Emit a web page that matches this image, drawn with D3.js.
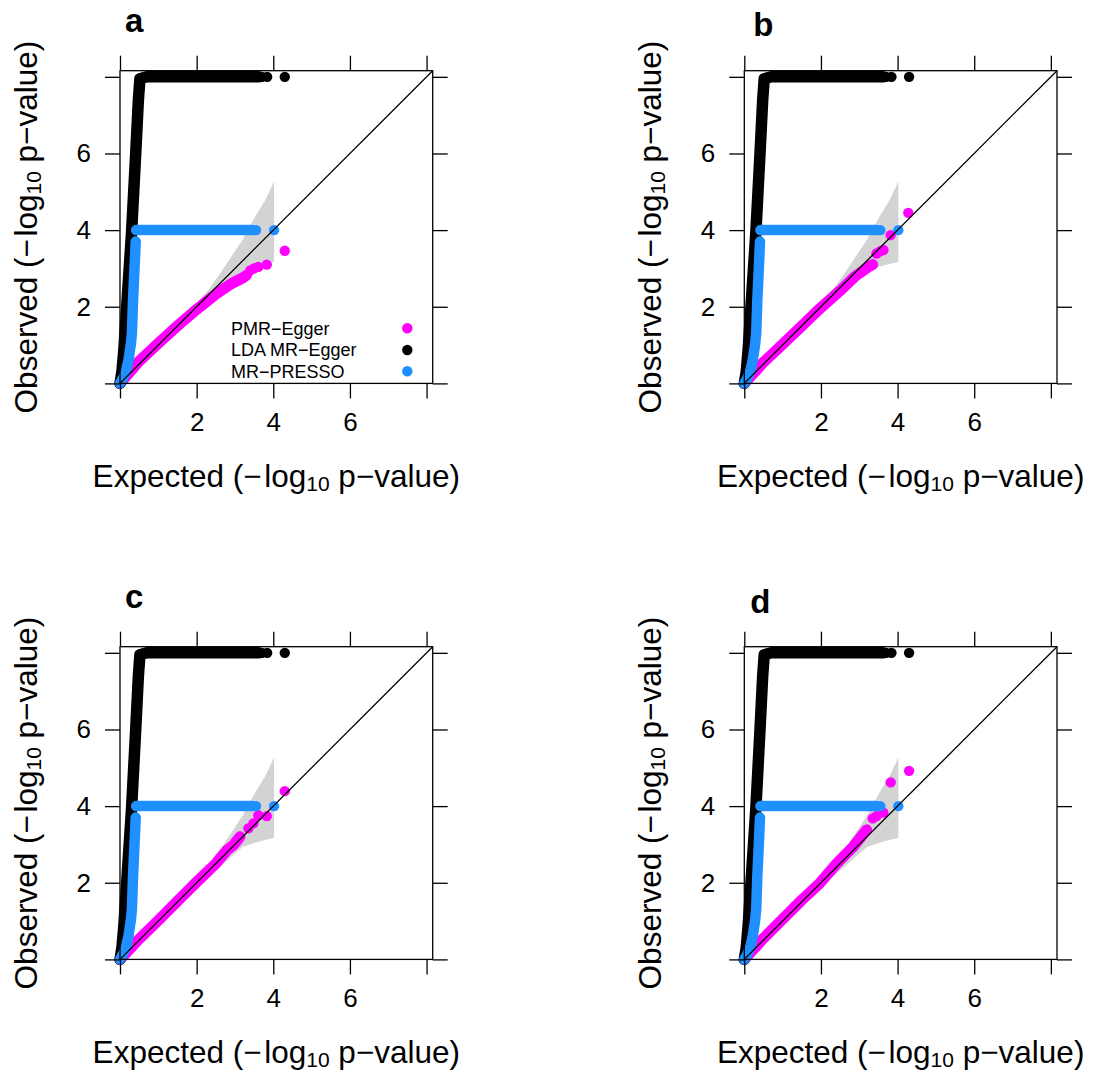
<!DOCTYPE html>
<html>
<head>
<meta charset="utf-8">
<script src="https://cdn.jsdelivr.net/npm/d3@7"></script>
<style>
  body { margin: 0; background: #fff; }
  svg { display: block; }
  text { font-family: "Liberation Sans", Arial, Helvetica, sans-serif; fill: #000; }
</style>
</head>
<body>
<svg width="1095" height="1072"></svg>
<script>
// ---- data ----
const panelLabels = ["a", "b", "c", "d"];
const seriesNames = ["PMR\u2212Egger", "LDA MR\u2212Egger", "MR\u2212PRESSO"];
const seriesColors = ["#ff00ff", "#000000", "#1e90ff"];
const axisTicks = [0, 2, 4, 6, 8];
const tickLabels = ["", "2", "4", "6", ""];

// 95% band around the null
const bandExp = [0, 1.0, 1.5, 2.0, 2.3, 2.6, 2.9, 3.2, 3.5, 3.8, 4.02];
const bandLo  = [0, 0.96, 1.44, 1.9, 2.16, 2.4, 2.68, 2.93, 3.04, 3.12, 3.17];
const bandHi  = [0, 1.04, 1.56, 2.1, 2.43, 2.85, 3.3, 3.75, 4.3, 4.8, 5.27];

// LDA MR-Egger, same in every panel (observed capped at 8)
const ldaDense = [[0, 0], [0.05, 0.3], [0.1, 0.87], [0.2, 2.4], [0.3, 3.91], [0.41, 6.0],
                  [0.48, 7.4], [0.52, 7.95], [0.7, 8.0], [3.62, 8.0]];
const ldaTail = [[3.7, 8.0], [3.84, 8.0], [4.3, 8.0]];

// MR-PRESSO, same in every panel
const pressoDense = [[0, 0], [0.06, 0.1], [0.15, 0.3], [0.22, 0.6], [0.28, 1.0], [0.31, 1.3],
                     [0.34, 2.17], [0.38, 3.04], [0.41, 3.7]];
const pressoFlat = [[0.42, 4.0], [3.45, 4.0]];
const pressoTail = [[3.55, 4.0], [4.02, 4.0]];

// PMR-Egger, one per panel
const pmrA = [[0, 0], [0.5, 0.58], [1.0, 1.05], [1.5, 1.5], [2.0, 1.93], [2.5, 2.33],
              [2.9, 2.6], [3.2, 2.75], [3.3, 2.82]];
const pmrTailA = [[3.4, 2.95], [3.5, 3.0], [3.61, 3.04], [3.83, 3.1], [4.3, 3.46]];
const pmrB = [[0, 0], [0.5, 0.55], [1.0, 1.02], [1.5, 1.5], [2.0, 1.98], [2.5, 2.42],
              [2.9, 2.8], [3.25, 3.05], [3.35, 3.1]];
const pmrTailB = [[3.45, 3.39], [3.55, 3.45], [3.63, 3.48], [3.82, 3.87], [4.28, 4.45]];
const pmrC = [[0, 0], [0.5, 0.53], [1.0, 1.02], [1.5, 1.52], [2.0, 2.02], [2.5, 2.5],
              [2.8, 2.86], [2.96, 2.98], [3.13, 3.2]];
const pmrTailC = [[3.35, 3.42], [3.48, 3.55], [3.61, 3.76], [3.83, 3.74], [4.3, 4.39]];
const pmrD = [[0, 0], [0.5, 0.55], [1.0, 1.05], [1.5, 1.55], [1.97, 1.99], [2.41, 2.5],
              [2.84, 2.94], [3.05, 3.2], [3.19, 3.38]];
const pmrTailD = [[3.35, 3.68], [3.45, 3.74], [3.63, 3.83], [3.82, 4.62], [4.3, 4.92]];

// ---- layout ----
const svg = d3.select("svg");
const size = 312.7;
const maxVal = 8.16;

const panels = [
    {label: "a", pmr: pmrA, tail: pmrTailA, x0: 120, y0: 70.7, lx: 5, ly: -38.7, legend: true},
    {label: "b", pmr: pmrB, tail: pmrTailB, x0: 744.3, y0: 70.7, lx: 9, ly: -34.5, legend: false},
    {label: "c", pmr: pmrC, tail: pmrTailC, x0: 120, y0: 646.7, lx: 5, ly: -38.5, legend: false},
    {label: "d", pmr: pmrD, tail: pmrTailD, x0: 744.3, y0: 646.7, lx: 6, ly: -33.5, legend: false}
];

const x = d3.scaleLinear().domain([0, maxVal]).range([0, size]);
const y = d3.scaleLinear().domain([0, maxVal]).range([size, 0]);

const line = d3.line().x(d => x(d[0])).y(d => y(d[1]));

function thick(g, data, color, w) {
    g.append("path")
        .attr("d", line(data))
        .attr("fill", "none")
        .attr("stroke", color)
        .attr("stroke-width", w)
        .attr("stroke-linecap", "round")
        .attr("stroke-linejoin", "round");
}

function dots(g, data, color) {
    g.selectAll(null).data(data).enter().append("circle")
        .attr("cx", d => x(d[0]))
        .attr("cy", d => y(d[1]))
        .attr("r", 5.2)
        .attr("fill", color);
}

function title(g, tr, word) {
    const t = g.append("text")
        .attr("transform", tr)
        .attr("text-anchor", "middle").style("font-size", "31.5px");
    t.append("tspan").text(word + " (\u2212\u200Alog");
    t.append("tspan").attr("dy", 4).style("font-size", "21px").text("10");
    t.append("tspan").attr("dy", -4).text(" p\u2212value)");
}

panels.forEach(p => {
    const g = svg.append("g").attr("transform", `translate(${p.x0},${p.y0})`);

    // confidence band
    const area = d3.area()
        .x((d, i) => x(bandExp[i]))
        .y0((d, i) => y(bandLo[i]))
        .y1((d, i) => y(bandHi[i]));
    g.append("path").attr("d", area(bandExp)).attr("fill", "#d3d3d3");

    // PMR-Egger
    thick(g, p.pmr, seriesColors[0], 11);
    dots(g, p.tail, seriesColors[0]);

    // LDA MR-Egger
    thick(g, ldaDense, seriesColors[1], 11.5);
    dots(g, ldaTail, seriesColors[1]);

    // MR-PRESSO
    thick(g, pressoDense, seriesColors[2], 10.5);
    thick(g, pressoFlat, seriesColors[2], 10.5);
    dots(g, pressoTail, seriesColors[2]);

    // identity line
    g.append("line")
        .attr("x1", x(0)).attr("y1", y(0))
        .attr("x2", x(maxVal)).attr("y2", y(maxVal))
        .attr("stroke", "#000").attr("stroke-width", 1.3);

    // box
    g.append("rect")
        .attr("width", size).attr("height", size)
        .attr("fill", "none").attr("stroke", "#000").attr("stroke-width", 1.3);

    // axes
    const fmt = (d, i) => tickLabels[i];
    const axes = [
        g.append("g").call(d3.axisLeft(y).tickValues(axisTicks).tickFormat(fmt).tickSize(15).tickPadding(14)),
        g.append("g").attr("transform", `translate(${size},0)`)
            .call(d3.axisRight(y).tickValues(axisTicks).tickFormat("").tickSize(15)),
        g.append("g").attr("transform", `translate(0,${size})`)
            .call(d3.axisBottom(x).tickValues(axisTicks).tickFormat(fmt).tickSize(15).tickPadding(14)),
        g.append("g").call(d3.axisTop(x).tickValues(axisTicks).tickFormat("").tickSize(15))
    ];
    axes.forEach(a => {
        a.select(".domain").remove();
        a.selectAll("line").attr("stroke", "#000").attr("stroke-width", 1.3);
        a.selectAll("text").style("font-size", "26px").attr("fill", "#000");
    });

    // axis titles
    title(g, `translate(${size / 2},${size + 103.5})`, "Expected");
    title(g, `translate(-83.5,${size / 2}) rotate(-90)`, "Observed");

    // panel letter
    g.append("text")
        .attr("x", p.lx).attr("y", p.ly)
        .style("font-size", "33px").style("font-weight", "bold")
        .text(p.label);

    if (p.legend) {
        const rows = [257.6, 279.3, 300.6];
        seriesNames.forEach((name, i) => {
            g.append("text")
                .attr("x", 111).attr("y", rows[i] + 6.3)
                .style("font-size", "18px")
                .text(name);
            g.append("circle")
                .attr("cx", 287.3).attr("cy", rows[i])
                .attr("r", 5.2).attr("fill", seriesColors[i]);
        });
    }
});
</script>
</body>
</html>
